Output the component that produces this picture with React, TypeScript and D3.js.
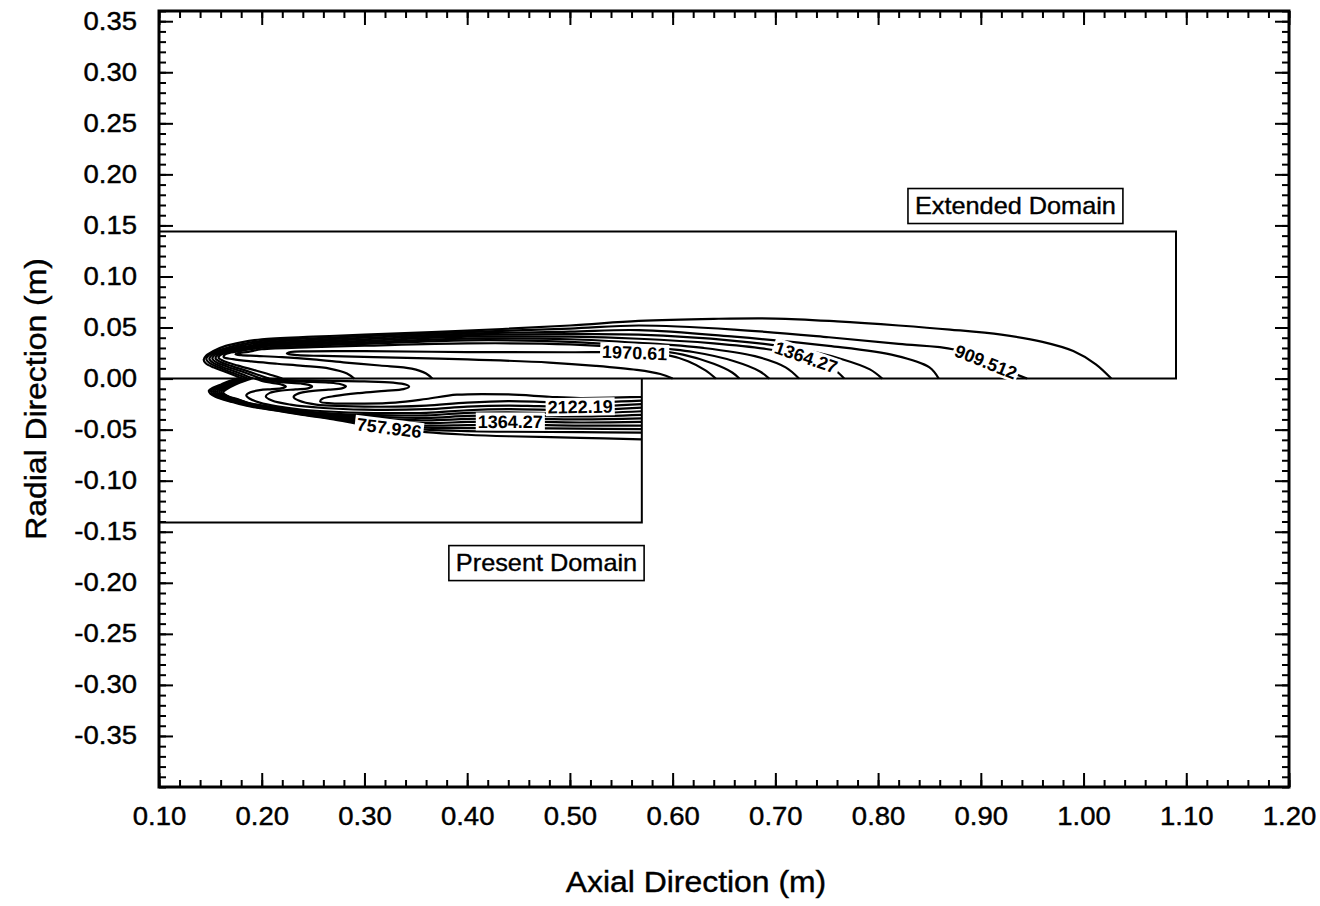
import React, { useEffect, useRef } from "react";
import * as d3 from "d3";

type Pt = [number, number];
interface Contour {
  level: number;
  pts: Pt[];
}

const W = 1320;
const H = 906;

// Axis values (metres)
const xExtent: [number, number] = [0.1, 1.2];
const rExtent: [number, number] = [-0.4, 0.36];
const xTicks = [0.1, 0.2, 0.3, 0.4, 0.5, 0.6, 0.7, 0.8, 0.9, 1.0, 1.1, 1.2];
const yTicks = [0.35, 0.3, 0.25, 0.2, 0.15, 0.1, 0.05, 0, -0.05, -0.1, -0.15, -0.2, -0.25, -0.3, -0.35];

// Computational domains
const extendedDomain = { x0: 0.1, x1: 1.09, r0: 0, r1: 0.144 };
const presentDomain = { x0: 0.1, x1: 0.57, r0: -0.141, r1: 0 };
const domainNotes = [
  { text: "Extended Domain", x: 0.9337, r: 0.169 },
  { text: "Present Domain", x: 0.4772, r: -0.1807 },
];

// Isotherms in the extended domain (upper half): [axial m, radial m]
const topContours: Contour[] = [
  { level: 757.926, pts: [[0.181, 0], [0.175, 0.0025], [0.165, 0.0065], [0.153, 0.011], [0.1455, 0.015], [0.1435, 0.0185], [0.146, 0.0225], [0.153, 0.027], [0.165, 0.032], [0.18, 0.0355], [0.2, 0.0385], [0.25, 0.041], [0.3, 0.043], [0.4, 0.047], [0.5, 0.052], [0.567, 0.0565], [0.64, 0.0585], [0.7, 0.0588], [0.76, 0.056], [0.82, 0.052], [0.87, 0.048], [0.92, 0.043], [0.96, 0.036], [0.99, 0.027], [1.012, 0.014], [1.027, 0]] },
  { level: 909.512, pts: [[0.186, 0], [0.18, 0.0025], [0.169, 0.0067], [0.157, 0.0113], [0.149, 0.0153], [0.146, 0.019], [0.148, 0.0225], [0.155, 0.0265], [0.167, 0.0305], [0.182, 0.034], [0.2, 0.037], [0.25, 0.0395], [0.3, 0.0415], [0.4, 0.0455], [0.5, 0.049], [0.567, 0.052], [0.66, 0.048], [0.752, 0.0405], [0.82, 0.034], [0.874, 0.0285], [0.905, 0.0165], [0.93, 0.006], [0.945, 0]] },
  { level: 1061.1, pts: [[0.192, 0], [0.185, 0.0026], [0.174, 0.0069], [0.161, 0.0116], [0.1525, 0.0156], [0.149, 0.0193], [0.151, 0.0226], [0.157, 0.026], [0.169, 0.0295], [0.184, 0.0328], [0.2, 0.0355], [0.25, 0.038], [0.3, 0.04], [0.4, 0.044], [0.5, 0.046], [0.567, 0.0475], [0.66, 0.041], [0.752, 0.032], [0.817, 0.0225], [0.85, 0.011], [0.859, 0]] },
  { level: 1212.68, pts: [[0.199, 0], [0.192, 0.0027], [0.18, 0.0071], [0.166, 0.0119], [0.156, 0.0159], [0.152, 0.0196], [0.154, 0.0228], [0.16, 0.0257], [0.171, 0.0287], [0.186, 0.0316], [0.2, 0.034], [0.25, 0.0365], [0.3, 0.0385], [0.4, 0.0425], [0.5, 0.0435], [0.567, 0.043], [0.66, 0.037], [0.72, 0.0295], [0.765, 0.019], [0.792, 0.009], [0.804, 0]] },
  { level: 1364.27, pts: [[0.207, 0], [0.199, 0.0028], [0.186, 0.0073], [0.171, 0.0122], [0.16, 0.0162], [0.155, 0.0199], [0.157, 0.023], [0.163, 0.0255], [0.173, 0.028], [0.188, 0.0306], [0.2, 0.0328], [0.25, 0.035], [0.3, 0.037], [0.4, 0.041], [0.5, 0.041], [0.567, 0.039], [0.64, 0.0345], [0.691, 0.029], [0.73, 0.021], [0.757, 0.009], [0.767, 0]] },
  { level: 1515.86, pts: [[0.22, 0], [0.211, 0.003], [0.195, 0.0077], [0.177, 0.0127], [0.164, 0.0167], [0.158, 0.0203], [0.16, 0.0232], [0.166, 0.0254], [0.176, 0.0275], [0.19, 0.0298], [0.2, 0.0316], [0.25, 0.0337], [0.3, 0.0355], [0.4, 0.0392], [0.5, 0.0385], [0.567, 0.035], [0.63, 0.03], [0.68, 0.022], [0.71, 0.011], [0.723, 0]] },
  { level: 1667.44, pts: [[0.29, 0], [0.283, 0.005], [0.266, 0.0098], [0.24, 0.0125], [0.215, 0.0145], [0.19, 0.0168], [0.172, 0.019], [0.163, 0.021], [0.164, 0.0235], [0.17, 0.0255], [0.18, 0.0272], [0.2, 0.0302], [0.25, 0.0323], [0.3, 0.034], [0.4, 0.0375], [0.5, 0.036], [0.567, 0.0315], [0.62, 0.026], [0.66, 0.017], [0.685, 0.007], [0.694, 0]] },
  { level: 1819.03, pts: [[0.366, 0], [0.36, 0.005], [0.346, 0.0098], [0.315, 0.0128], [0.282, 0.0157], [0.25, 0.0188], [0.22, 0.021], [0.195, 0.0222], [0.18, 0.0229], [0.1745, 0.0238], [0.177, 0.0249], [0.187, 0.0262], [0.2, 0.0287], [0.25, 0.0308], [0.3, 0.0322], [0.4, 0.0345], [0.5, 0.0335], [0.567, 0.029], [0.61, 0.0235], [0.64, 0.0145], [0.658, 0.006], [0.665, 0]] },
  { level: 1970.61, pts: [[0.6, 0], [0.588, 0.0045], [0.565, 0.0085], [0.525, 0.0125], [0.48, 0.0157], [0.4, 0.0188], [0.32, 0.0208], [0.26, 0.0222], [0.235, 0.0229], [0.2245, 0.0245], [0.228, 0.026], [0.245, 0.0267], [0.3, 0.0268], [0.4, 0.026], [0.5, 0.0258], [0.563, 0.0255], [0.594, 0.0232], [0.615, 0.017], [0.632, 0.008], [0.642, 0]] },
];

// Isotherms in the present domain (lower half)
const bottomContours: Contour[] = [
  { level: 757.926, pts: [[0.176, 0], [0.17, -0.002], [0.161, -0.0055], [0.1525, -0.009], [0.1485, -0.012], [0.15, -0.0148], [0.1555, -0.018], [0.1655, -0.0215], [0.177, -0.0245], [0.19, -0.0275], [0.215, -0.0315], [0.24, -0.0355], [0.27, -0.04], [0.3, -0.0455], [0.36, -0.0525], [0.4, -0.055], [0.44, -0.0565], [0.51, -0.058], [0.57, -0.0595]] },
  { level: 909.512, pts: [[0.178, 0], [0.172, -0.002], [0.163, -0.0055], [0.1545, -0.009], [0.1505, -0.012], [0.152, -0.0148], [0.1575, -0.018], [0.1675, -0.0213], [0.178, -0.0238], [0.19, -0.027], [0.215, -0.0311], [0.24, -0.0351], [0.27, -0.0392], [0.3, -0.044], [0.36, -0.05], [0.4, -0.0515], [0.44, -0.052], [0.51, -0.0525], [0.57, -0.053]] },
  { level: 1061.1, pts: [[0.18, 0], [0.174, -0.002], [0.165, -0.0055], [0.1565, -0.009], [0.1525, -0.0122], [0.154, -0.0148], [0.1595, -0.0178], [0.1695, -0.0211], [0.179, -0.0236], [0.19, -0.0266], [0.215, -0.0307], [0.24, -0.0346], [0.27, -0.0384], [0.3, -0.0425], [0.36, -0.048], [0.4, -0.0485], [0.44, -0.0485], [0.51, -0.049], [0.57, -0.0495]] },
  { level: 1212.68, pts: [[0.182, 0], [0.176, -0.002], [0.167, -0.0055], [0.1585, -0.0092], [0.1545, -0.0124], [0.156, -0.0148], [0.1615, -0.0176], [0.1715, -0.0209], [0.19, -0.0262], [0.215, -0.0303], [0.24, -0.0341], [0.27, -0.0376], [0.3, -0.0411], [0.36, -0.046], [0.4, -0.0455], [0.44, -0.045], [0.51, -0.046], [0.57, -0.046]] },
  { level: 1364.27, pts: [[0.184, 0], [0.178, -0.002], [0.169, -0.0055], [0.1605, -0.0094], [0.1565, -0.0126], [0.158, -0.0149], [0.1635, -0.0175], [0.1735, -0.0207], [0.19, -0.0257], [0.215, -0.0298], [0.24, -0.0335], [0.27, -0.0367], [0.3, -0.0397], [0.36, -0.0435], [0.4, -0.0425], [0.44, -0.042], [0.51, -0.043], [0.57, -0.0425]] },
  { level: 1515.86, pts: [[0.186, 0], [0.18, -0.002], [0.171, -0.0055], [0.1625, -0.0096], [0.1585, -0.0128], [0.16, -0.015], [0.1655, -0.0174], [0.1755, -0.0205], [0.19, -0.0253], [0.215, -0.0294], [0.24, -0.033], [0.27, -0.0359], [0.3, -0.0383], [0.36, -0.041], [0.4, -0.0395], [0.44, -0.039], [0.51, -0.04], [0.57, -0.039]] },
  { level: 1667.44, pts: [[0.188, 0], [0.182, -0.002], [0.173, -0.0055], [0.1645, -0.0098], [0.1605, -0.013], [0.162, -0.0152], [0.1675, -0.0176], [0.1775, -0.0205], [0.19, -0.0249], [0.215, -0.029], [0.24, -0.0324], [0.27, -0.0351], [0.3, -0.0369], [0.36, -0.0385], [0.4, -0.0365], [0.44, -0.036], [0.51, -0.037], [0.57, -0.0355]] },
  { level: 1819.03, pts: [[0.19, 0], [0.184, -0.002], [0.175, -0.0055], [0.1665, -0.01], [0.1625, -0.0132], [0.164, -0.0155], [0.1695, -0.0185], [0.1795, -0.0215], [0.19, -0.0245], [0.215, -0.0285], [0.24, -0.0318], [0.27, -0.0343], [0.3, -0.0355], [0.36, -0.036], [0.4, -0.0335], [0.44, -0.033], [0.51, -0.034], [0.57, -0.032]] },
  { level: 1970.61, pts: [[0.193, 0], [0.2, -0.0022], [0.21, -0.0042], [0.219, -0.0058], [0.2235, -0.0077], [0.22, -0.0094], [0.21, -0.0103], [0.198, -0.0113], [0.189, -0.0135], [0.185, -0.0165], [0.188, -0.0195], [0.198, -0.0235], [0.215, -0.0272], [0.24, -0.0305], [0.27, -0.0325], [0.3, -0.0335], [0.36, -0.0335], [0.4, -0.031], [0.44, -0.03], [0.51, -0.031], [0.57, -0.0285]] },
  { level: 2122.19, pts: [[0.197, 0], [0.207, -0.0022], [0.222, -0.0037], [0.238, -0.0048], [0.246, -0.0062], [0.249, -0.0079], [0.245, -0.0096], [0.233, -0.0106], [0.218, -0.0118], [0.208, -0.014], [0.204, -0.0175], [0.21, -0.0215], [0.228, -0.0255], [0.26, -0.0288], [0.3, -0.0305], [0.36, -0.03], [0.4, -0.0275], [0.44, -0.0265], [0.47, -0.027], [0.51, -0.0275], [0.57, -0.025]] },
  { level: 2273.78, pts: [[0.201, 0], [0.215, -0.0018], [0.24, -0.003], [0.265, -0.004], [0.277, -0.0055], [0.282, -0.0076], [0.278, -0.0096], [0.265, -0.0108], [0.248, -0.0122], [0.236, -0.0145], [0.231, -0.018], [0.236, -0.0215], [0.253, -0.0255], [0.28, -0.027], [0.3, -0.0275], [0.33, -0.0275], [0.36, -0.0265], [0.4, -0.0235], [0.44, -0.022], [0.48, -0.023], [0.51, -0.0235], [0.57, -0.0215]] },
  { level: 2425.36, pts: [[0.205, 0], [0.22, -0.0012], [0.26, -0.002], [0.3, -0.0028], [0.328, -0.004], [0.34, -0.0058], [0.3435, -0.008], [0.338, -0.0103], [0.32, -0.012], [0.295, -0.0142], [0.272, -0.017], [0.259, -0.0198], [0.257, -0.0225], [0.268, -0.0242], [0.3, -0.0245], [0.33, -0.0235], [0.36, -0.02], [0.39, -0.0158], [0.44, -0.0155], [0.48, -0.0178], [0.51, -0.019], [0.57, -0.018]] },
];

// Contour labels: level value and the axial station where it is written
const topLabels = [
  { level: 909.512, x: 0.905 },
  { level: 1364.27, x: 0.73 },
  { level: 1970.61, x: 0.563 },
];
const bottomLabels = [
  { level: 757.926, x: 0.324 },
  { level: 1364.27, x: 0.442 },
  { level: 2122.19, x: 0.51 },
];

const FONT = "'Liberation Sans', Arial, Helvetica, sans-serif";

// Radial position of a contour at a given axial station (outermost crossing)
function radiusAt(pts: Pt[], lx: number): number | null {
  let best: number | null = null;
  for (let i = 0; i < pts.length - 1; i++) {
    const [x1, r1] = pts[i];
    const [x2, r2] = pts[i + 1];
    if (x1 === x2) continue;
    if ((x1 - lx) * (x2 - lx) <= 0) {
      const t = (lx - x1) / (x2 - x1);
      const r = r1 + t * (r2 - r1);
      if (best === null || Math.abs(r) > Math.abs(best)) best = r;
    }
  }
  return best;
}

export default function App() {
  const ref = useRef<SVGSVGElement>(null);

  useEffect(() => {
    const svg = d3.select(ref.current);
    svg.selectAll("*").remove();

    const x = d3.scaleLinear().domain(xExtent).range([159, 1289]);
    const y = d3.scaleLinear().domain(rExtent).range([787, 11]);

    svg.append("rect").attr("width", W).attr("height", H).attr("fill", "#fff");

    // Domain outlines
    const dom = svg.append("g").attr("fill", "none").attr("stroke", "#000").attr("stroke-width", 2);
    dom.append("path").attr(
      "d",
      `M${x(extendedDomain.x0)},${y(extendedDomain.r1)}H${x(extendedDomain.x1)}V${y(extendedDomain.r0)}H${x(extendedDomain.x0)}`
    );
    dom.append("path").attr(
      "d",
      `M${x(presentDomain.x0)},${y(presentDomain.r0)}H${x(presentDomain.x1)}V${y(presentDomain.r1)}`
    );

    // Isotherms
    const line = d3
      .line<Pt>()
      .x((d) => x(d[0]))
      .y((d) => y(d[1]))
      .curve(d3.curveCatmullRom.alpha(0.5));
    const cg = svg
      .append("g")
      .attr("fill", "none")
      .attr("stroke", "#000")
      .attr("stroke-width", 2.2)
      .attr("stroke-linejoin", "round");
    [...topContours, ...bottomContours].forEach((c) => {
      cg.append("path").attr("d", line(c.pts) as string);
    });

    // Contour labels with white backing
    const lg = svg.append("g");
    const drawLabels = (set: { level: number; x: number }[], contours: Contour[]) => {
      set.forEach((lab) => {
        const c = contours.find((cc) => cc.level === lab.level);
        if (!c) return;
        const r = radiusAt(c.pts, lab.x);
        const ra = radiusAt(c.pts, lab.x - 0.03);
        const rb = radiusAt(c.pts, lab.x + 0.03);
        if (r === null || ra === null || rb === null) return;
        const ang =
          (Math.atan2(y(rb) - y(ra), x(lab.x + 0.03) - x(lab.x - 0.03)) * 180) / Math.PI;
        const g = lg.append("g").attr("transform", `translate(${x(lab.x)},${y(r)}) rotate(${ang})`);
        const t = g
          .append("text")
          .text(String(lab.level))
          .attr("text-anchor", "middle")
          .attr("dy", "0.36em")
          .attr("font-size", 18)
          .attr("font-weight", 700)
          .attr("font-family", FONT)
          .attr("fill", "#000");
        const w = (t.node() as SVGTextElement).getComputedTextLength();
        g.insert("rect", "text")
          .attr("x", -w / 2 - 2)
          .attr("y", -9)
          .attr("width", w + 4)
          .attr("height", 18)
          .attr("fill", "#fff");
      });
    };
    drawLabels(topLabels, topContours);
    drawLabels(bottomLabels, bottomContours);

    // Axes with inward ticks on all four sides
    const fmt = (d: d3.NumberValue) => (+d).toFixed(2);
    const minorX = d3.range(5, 61).map((i) => +(i * 0.02).toFixed(2));
    const minorY = d3.range(-40, 37).map((i) => +(i * 0.01).toFixed(2));
    const axes = svg.append("g");
    const styleAxis = (sel: d3.Selection<SVGGElement, unknown, null, undefined>) => {
      sel.select(".domain").remove();
      sel.selectAll("line").attr("stroke", "#000").attr("stroke-width", 2);
      sel
        .selectAll("text")
        .attr("font-size", 25)
        .attr("font-family", FONT)
        .attr("fill", "#000")
        .attr("stroke", "#000")
        .attr("stroke-width", 0.4)
        .attr("transform", "scale(1.1,1)");
    };
    const bottomY = y(rExtent[0]);
    const topY = y(rExtent[1]);
    const leftX = x(xExtent[0]);
    const rightX = x(xExtent[1]);

    const addAxis = (axis: d3.Axis<d3.NumberValue>, transform: string) => {
      const g = axes.append("g").attr("transform", transform) as d3.Selection<SVGGElement, unknown, null, undefined>;
      g.call(axis as any);
      styleAxis(g);
      return g;
    };

    addAxis(d3.axisBottom(x).tickValues(minorX).tickSizeInner(-7).tickSizeOuter(0).tickFormat(() => ""), `translate(0,${bottomY})`);
    addAxis(d3.axisTop(x).tickValues(minorX).tickSizeInner(-7).tickSizeOuter(0).tickFormat(() => ""), `translate(0,${topY})`);
    addAxis(d3.axisLeft(y).tickValues(minorY).tickSizeInner(-7).tickSizeOuter(0).tickFormat(() => ""), `translate(${leftX},0)`);
    addAxis(d3.axisRight(y).tickValues(minorY).tickSizeInner(-7).tickSizeOuter(0).tickFormat(() => ""), `translate(${rightX},0)`);

    addAxis(d3.axisBottom(x).tickValues(xTicks).tickSizeInner(-14).tickSizeOuter(0).tickPadding(20).tickFormat(fmt), `translate(0,${bottomY})`);
    addAxis(d3.axisTop(x).tickValues(xTicks).tickSizeInner(-14).tickSizeOuter(0).tickFormat(() => ""), `translate(0,${topY})`);
    addAxis(d3.axisLeft(y).tickValues(yTicks).tickSizeInner(-14).tickSizeOuter(0).tickPadding(20).tickFormat(fmt), `translate(${leftX},0)`);
    addAxis(d3.axisRight(y).tickValues(yTicks).tickSizeInner(-14).tickSizeOuter(0).tickFormat(() => ""), `translate(${rightX},0)`);

    // Frame
    axes
      .append("rect")
      .attr("x", leftX)
      .attr("y", topY)
      .attr("width", rightX - leftX)
      .attr("height", bottomY - topY)
      .attr("fill", "none")
      .attr("stroke", "#000")
      .attr("stroke-width", 3);

    // Axis titles
    svg
      .append("text")
      .text("Axial Direction (m)")
      .attr("transform", `translate(696,892) scale(1.1,1)`)
      .attr("text-anchor", "middle")
      .attr("font-size", 29)
      .attr("font-family", FONT)
      .attr("fill", "#000")
      .attr("stroke", "#000")
      .attr("stroke-width", 0.4);
    svg
      .append("text")
      .text("Radial Direction (m)")
      .attr("transform", `translate(46,399) rotate(-90) scale(1.1,1)`)
      .attr("text-anchor", "middle")
      .attr("font-size", 29)
      .attr("font-family", FONT)
      .attr("fill", "#000")
      .attr("stroke", "#000")
      .attr("stroke-width", 0.4);

    // Domain name boxes
    domainNotes.forEach((n) => {
      const g = svg.append("g").attr("transform", `translate(${x(n.x)},${y(n.r)})`);
      const t = g
        .append("text")
        .text(n.text)
        .attr("transform", "scale(1.1,1)")
        .attr("text-anchor", "middle")
        .attr("dy", "0.36em")
        .attr("font-size", 23)
        .attr("font-family", FONT)
        .attr("fill", "#000")
        .attr("stroke", "#000")
        .attr("stroke-width", 0.35);
      const w = (t.node() as SVGTextElement).getComputedTextLength() * 1.1;
      g.insert("rect", "text")
        .attr("x", -w / 2 - 7)
        .attr("y", -17.5)
        .attr("width", w + 14)
        .attr("height", 35)
        .attr("fill", "#fff")
        .attr("stroke", "#000")
        .attr("stroke-width", 1.6);
    });
  }, []);

  return (
    <svg
      ref={ref}
      width={W}
      height={H}
      style={{ position: "absolute", left: 0, top: 0, display: "block" }}
    />
  );
}
